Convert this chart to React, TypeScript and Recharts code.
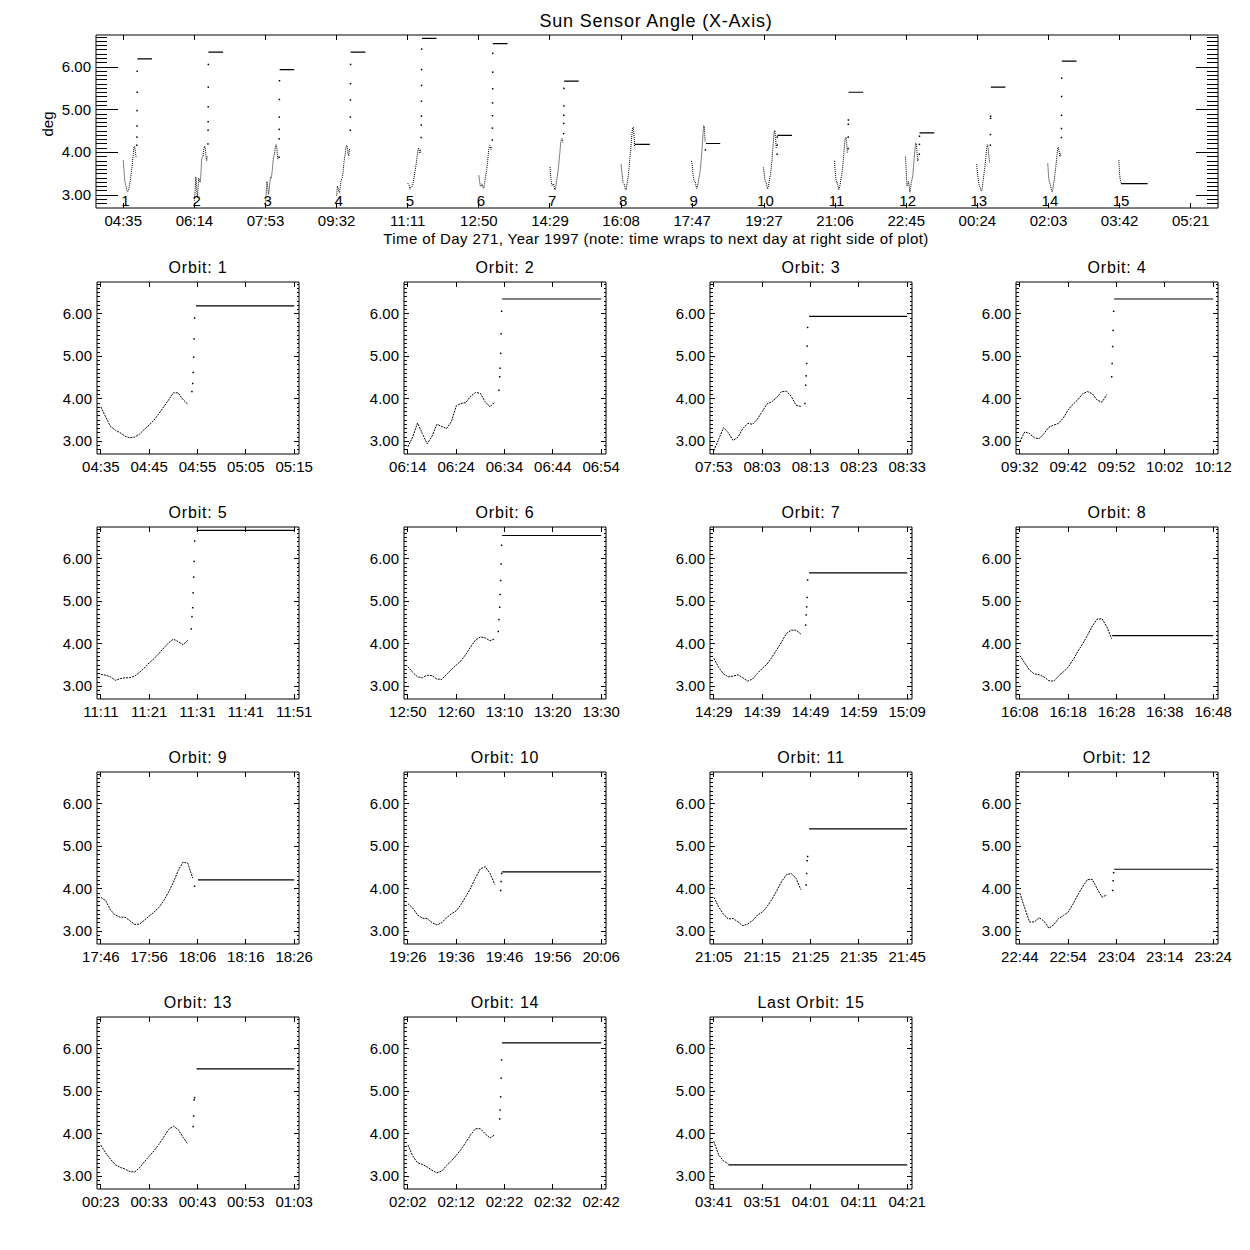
import React from "react";
import { ComposedChart, Line, Scatter, XAxis, YAxis } from "recharts";

const FONT = '"Liberation Sans", Arial, sans-serif';

// orbit numbers and their start time, minutes after 00:00 of day 271
const ORBITS = [1, 2, 3, 4, 5, 6, 7, 8, 9, 10, 11, 12, 13, 14, 15];
const ORBIT_START = [275, 374, 473, 572, 671, 770, 869, 968, 1066, 1166, 1265, 1364, 1463, 1562, 1661];

// top plot x axis
const TOP_TICKS = [275, 374, 473, 572, 671, 770, 869, 968, 1067, 1167, 1266, 1365, 1464, 1563, 1662, 1761];
const TOP_TICK_LABELS = [
  "04:35", "06:14", "07:53", "09:32", "11:11", "12:50", "14:29", "16:08",
  "17:47", "19:27", "21:06", "22:45", "00:24", "02:03", "03:42", "05:21",
];

// per orbit panel x axis (minutes into the orbit)
const PANEL_TICKS = [0, 10, 20, 30, 40];
const PANEL_TICK_LABELS = [
  ["04:35", "04:45", "04:55", "05:05", "05:15"],
  ["06:14", "06:24", "06:34", "06:44", "06:54"],
  ["07:53", "08:03", "08:13", "08:23", "08:33"],
  ["09:32", "09:42", "09:52", "10:02", "10:12"],
  ["11:11", "11:21", "11:31", "11:41", "11:51"],
  ["12:50", "12:60", "13:10", "13:20", "13:30"],
  ["14:29", "14:39", "14:49", "14:59", "15:09"],
  ["16:08", "16:18", "16:28", "16:38", "16:48"],
  ["17:46", "17:56", "18:06", "18:16", "18:26"],
  ["19:26", "19:36", "19:46", "19:56", "20:06"],
  ["21:05", "21:15", "21:25", "21:35", "21:45"],
  ["22:44", "22:54", "23:04", "23:14", "23:24"],
  ["00:23", "00:33", "00:43", "00:53", "01:03"],
  ["02:02", "02:12", "02:22", "02:32", "02:42"],
  ["03:41", "03:51", "04:01", "04:11", "04:21"],
];

// sun sensor angle (deg), one value per minute from orbit start
const CURVE_T = [0, 1, 2, 3, 4, 5, 6, 7, 8, 9, 10, 11, 12, 13, 14, 15, 16, 17, 18, 19];
const CURVE_01 = [3.81, 3.57, 3.35, 3.26, 3.20, 3.12, 3.08, 3.10, 3.17, 3.28, 3.38, 3.50, 3.65, 3.81, 3.97, 4.14, 4.14, 3.98, 3.87];
const CURVE_02 = [2.87, 3.10, 3.43, 3.18, 2.94, 3.12, 3.40, 3.35, 3.30, 3.46, 3.83, 3.89, 3.91, 4.06, 4.15, 4.13, 3.93, 3.81, 3.93];
const CURVE_03 = [2.78, 3.05, 3.32, 3.20, 3.02, 3.10, 3.30, 3.42, 3.40, 3.52, 3.70, 3.88, 3.93, 4.03, 4.17, 4.18, 4.06, 3.85, 3.82];
const CURVE_04 = [2.99, 3.22, 3.18, 3.08, 3.06, 3.18, 3.33, 3.38, 3.42, 3.55, 3.74, 3.87, 3.98, 4.12, 4.17, 4.12, 3.97, 3.92, 4.10];
const CURVE_05 = [3.28, 3.26, 3.22, 3.14, 3.18, 3.20, 3.20, 3.24, 3.33, 3.43, 3.55, 3.65, 3.77, 3.90, 4.02, 4.11, 4.05, 3.98, 4.08];
const CURVE_06 = [3.46, 3.33, 3.22, 3.20, 3.26, 3.25, 3.17, 3.16, 3.28, 3.39, 3.50, 3.60, 3.75, 3.93, 4.09, 4.16, 4.14, 4.07, 4.12];
const CURVE_07 = [3.66, 3.44, 3.29, 3.22, 3.24, 3.27, 3.20, 3.12, 3.17, 3.30, 3.42, 3.52, 3.68, 3.86, 4.04, 4.24, 4.32, 4.32, 4.23];
const CURVE_08 = [3.72, 3.55, 3.38, 3.29, 3.27, 3.22, 3.13, 3.12, 3.24, 3.34, 3.45, 3.62, 3.82, 4.00, 4.20, 4.42, 4.58, 4.59, 4.40, 4.12];
const CURVE_09 = [3.80, 3.72, 3.50, 3.38, 3.33, 3.33, 3.25, 3.16, 3.17, 3.26, 3.36, 3.45, 3.56, 3.72, 3.92, 4.15, 4.43, 4.63, 4.60, 4.25];
const CURVE_10 = [3.65, 3.55, 3.38, 3.31, 3.30, 3.20, 3.15, 3.20, 3.32, 3.41, 3.48, 3.63, 3.82, 4.02, 4.26, 4.47, 4.52, 4.36, 4.10];
const CURVE_11 = [3.80, 3.57, 3.40, 3.29, 3.30, 3.22, 3.13, 3.17, 3.25, 3.38, 3.45, 3.58, 3.75, 3.95, 4.17, 4.33, 4.36, 4.25, 3.98];
const CURVE_12 = [3.90, 3.55, 3.22, 3.22, 3.32, 3.24, 3.07, 3.15, 3.30, 3.37, 3.45, 3.64, 3.86, 4.05, 4.22, 4.22, 4.00, 3.80, 3.86];
const CURVE_13 = [3.73, 3.55, 3.40, 3.27, 3.21, 3.17, 3.11, 3.10, 3.20, 3.34, 3.47, 3.60, 3.75, 3.92, 4.10, 4.18, 4.10, 3.92, 3.76];
const CURVE_14 = [3.74, 3.48, 3.32, 3.28, 3.22, 3.14, 3.08, 3.12, 3.25, 3.36, 3.49, 3.63, 3.80, 3.98, 4.12, 4.12, 4.00, 3.90, 3.98];
const CURVE_15 = [3.82, 3.50, 3.36, 3.29];
const CURVES = [
  CURVE_01, CURVE_02, CURVE_03, CURVE_04, CURVE_05, CURVE_06, CURVE_07, CURVE_08,
  CURVE_09, CURVE_10, CURVE_11, CURVE_12, CURVE_13, CURVE_14, CURVE_15,
];

// sparse samples while the angle jumps (last one sits at the end of JUMP_T)
const JUMP_T = [18.7, 18.85, 19.0, 19.1, 19.2, 19.3, 19.4];
const JUMP_01 = [4.17, 4.36, 4.62, 4.98, 5.41, 5.90];
const JUMP_02 = [4.20, 4.52, 4.72, 5.07, 5.53, 6.06];
const JUMP_03 = [3.89, 4.32, 4.54, 4.83, 5.24, 5.68];
const JUMP_04 = [4.52, 4.83, 5.23, 5.61, 6.06];
const JUMP_05 = [4.35, 4.64, 4.85, 5.20, 5.57, 5.94, 6.42];
const JUMP_06 = [4.29, 4.57, 4.86, 5.16, 5.49, 5.88, 6.32];
const JUMP_07 = [4.44, 4.68, 4.87, 5.09, 5.50];
const JUMP_08: number[] = [];
const JUMP_09 = [4.06];
const JUMP_10 = [3.96, 4.17, 4.36];
const JUMP_11 = [4.09, 4.36, 4.66, 4.76];
const JUMP_12 = [3.96, 4.19, 4.38];
const JUMP_13 = [4.17, 4.42, 4.80, 4.85];
const JUMP_14 = [4.35, 4.56, 4.87, 5.31, 5.74];
const JUMP_15: number[] = [];
const JUMPS = [
  JUMP_01, JUMP_02, JUMP_03, JUMP_04, JUMP_05, JUMP_06, JUMP_07, JUMP_08,
  JUMP_09, JUMP_10, JUMP_11, JUMP_12, JUMP_13, JUMP_14, JUMP_15,
];

// held value after the jump, from PLATEAU_T0 to PLATEAU_END minutes
const PLATEAU = [6.19, 6.35, 5.94, 6.35, 6.67, 6.55, 5.67, 4.19, 4.21, 4.40, 5.41, 4.46, 5.53, 6.14, 3.27];
const PLATEAU_T0 = [19.7, 19.5, 19.7, 19.5, 19.8, 19.5, 19.7, 19.1, 20.1, 19.5, 19.7, 19.5, 19.8, 19.5, 3.0];
const PLATEAU_END = 40;

const Y_DOMAIN: [number, number] = [2.7, 6.75];
const Y_TICKS: number[] = [];
for (let i = 28; i <= 67; i++) Y_TICKS.push(i / 10);

type Pt = { t: number; v: number | null; label?: string };

function curvePts(k: number, off: number): Pt[] {
  return CURVES[k].map((v, i) => ({ t: off + CURVE_T[i], v }));
}
function jumpPts(k: number, off: number): Pt[] {
  const n = JUMPS[k].length;
  return JUMPS[k].map((v, i) => ({ t: off + JUMP_T[JUMP_T.length - n + i], v }));
}
function plateauPts(k: number, off: number): Pt[] {
  return [
    { t: off + PLATEAU_T0[k], v: PLATEAU[k] },
    { t: off + PLATEAU_END, v: PLATEAU[k] },
  ];
}

const topCurve: Pt[] = ORBITS.flatMap((_, k) => [...curvePts(k, ORBIT_START[k]), { t: ORBIT_START[k] + 19.5, v: null }]);
const topPlateau: Pt[] = ORBITS.flatMap((_, k) => [...plateauPts(k, ORBIT_START[k]), { t: ORBIT_START[k] + 41, v: null }]);
const topJump: Pt[] = ORBITS.flatMap((_, k) => jumpPts(k, ORBIT_START[k]));
const orbitLabels: Pt[] = ORBITS.map((o, k) => ({ t: ORBIT_START[k] + 3, v: 2.86, label: String(o) }));

const AXIS = { stroke: "#000", strokeWidth: 1 };
const isMajor = (v: number) => Math.abs(v - Math.round(v)) < 1e-6;

function yTick(side: "left" | "right", majorLen: number, minorLen: number, fontSize: number) {
  return (p: any) => {
    const v = p.payload.value as number;
    const major = isMajor(v);
    const dir = side === "left" ? 1 : -1;
    return (
      <g>
        <line x1={p.x} x2={p.x + dir * (major ? majorLen : minorLen)} y1={p.y} y2={p.y}
          stroke="#000" strokeWidth={1} shapeRendering="crispEdges" />
        {side === "left" && major && (
          <text x={p.x - 5} y={p.y + 5} textAnchor="end" fontSize={fontSize} fontFamily={FONT} fill="#000">
            {v.toFixed(2)}
          </text>
        )}
      </g>
    );
  };
}

function xTick(side: "bottom" | "top", len: number, labels: string[] | null, ticks: number[], fontSize: number) {
  return (p: any) => {
    const i = ticks.indexOf(p.payload.value);
    const dir = side === "bottom" ? -1 : 1;
    return (
      <g>
        <line x1={p.x} x2={p.x} y1={p.y} y2={p.y + dir * len} stroke="#000" strokeWidth={1} shapeRendering="crispEdges" />
        {labels && (
          <text x={p.x} y={p.y + 18} textAnchor="middle" fontSize={fontSize} fontFamily={FONT} fill="#000">
            {labels[i]}
          </text>
        )}
      </g>
    );
  };
}

const JumpDot = (p: any) => <rect x={p.cx - 0.75} y={p.cy - 0.75} width={1.5} height={1.5} fill="#000" />;
const OrbitNumber = (p: any) => (
  <text x={p.cx} y={p.cy + 5} textAnchor="middle" fontSize={15} fontFamily={FONT} fill="#000">
    {p.payload.label}
  </text>
);

const TOP_DOMAIN: [number, number] = [237, 1799];

function TopChart() {
  return (
    <div style={{ position: "absolute", left: 0, top: 0 }}>
      <ComposedChart width={1250} height={250} margin={{ top: 34, right: 31, bottom: 0, left: 0 }}>
        <XAxis xAxisId="b" dataKey="t" type="number" domain={TOP_DOMAIN} ticks={TOP_TICKS} interval={0}
          height={42} tickLine={false} tickSize={0} tickMargin={0} axisLine={AXIS} allowDataOverflow
          tick={xTick("bottom", 5, TOP_TICK_LABELS, TOP_TICKS, 15)} />
        <XAxis xAxisId="t" orientation="top" dataKey="t" type="number" domain={TOP_DOMAIN} ticks={TOP_TICKS}
          interval={0} height={1} tickLine={false} tickSize={0} tickMargin={0} axisLine={AXIS} allowDataOverflow
          tick={xTick("top", 5, null, TOP_TICKS, 15)} />
        <YAxis yAxisId="l" type="number" domain={Y_DOMAIN} ticks={Y_TICKS} interval={0} width={96}
          tickLine={false} tickSize={0} tickMargin={0} axisLine={AXIS} allowDataOverflow
          tick={yTick("left", 22, 11, 15)} />
        <YAxis yAxisId="r" orientation="right" type="number" domain={Y_DOMAIN} ticks={Y_TICKS} interval={0} width={1}
          tickLine={false} tickSize={0} tickMargin={0} axisLine={AXIS} allowDataOverflow
          tick={yTick("right", 22, 11, 15)} />
        <Line xAxisId="b" yAxisId="l" data={topCurve} dataKey="v" stroke="#000" strokeWidth={1}
          strokeDasharray="1 1" dot={false} connectNulls={false} isAnimationActive={false} />
        <Line xAxisId="b" yAxisId="l" data={topPlateau} dataKey="v" stroke="#000" strokeWidth={1.2}
          dot={false} connectNulls={false} isAnimationActive={false} />
        <Line xAxisId="t" yAxisId="r" data={topPlateau} dataKey="v" stroke="none" dot={false}
          connectNulls={false} isAnimationActive={false} />
        <Scatter xAxisId="b" yAxisId="l" data={topJump} dataKey="v" shape={JumpDot} isAnimationActive={false} />
        <Scatter xAxisId="b" yAxisId="l" data={orbitLabels} dataKey="v" shape={OrbitNumber} isAnimationActive={false} />
      </ComposedChart>
    </div>
  );
}

const PANEL_COL_LEFT = [97, 404, 710, 1016];
const PANEL_ROW_TOP = [282, 527, 772, 1017];
const PANEL_W = 202;
const PANEL_H = 172;
const PANEL_X_DOMAIN: [number, number] = [-0.8, 41];

function OrbitPanel({ k }: { k: number }) {
  const left = PANEL_COL_LEFT[k % 4];
  const top = PANEL_ROW_TOP[Math.floor(k / 4)];
  const title = k === ORBITS.length - 1 ? `Last Orbit: ${ORBITS[k]}` : `Orbit: ${ORBITS[k]}`;
  return (
    <>
      <div style={{
        position: "absolute", left: left + PANEL_W / 2, top: top - 14, transform: "translate(-50%, -50%)",
        fontFamily: FONT, fontSize: 16, letterSpacing: 0.8, whiteSpace: "pre", lineHeight: 1,
      }}>{title}</div>
      <div style={{ position: "absolute", left: left - 60, top: top - 10 }}>
        <ComposedChart width={60 + PANEL_W + 1 + 25} height={10 + PANEL_H + 28} margin={{ top: 9, right: 25, bottom: 0, left: 0 }}>
          <XAxis xAxisId="b" dataKey="t" type="number" domain={PANEL_X_DOMAIN} ticks={PANEL_TICKS} interval={0}
            height={28} tickLine={false} tickSize={0} tickMargin={0} axisLine={AXIS} allowDataOverflow
            tick={xTick("bottom", 5, PANEL_TICK_LABELS[k], PANEL_TICKS, 15)} />
          <XAxis xAxisId="t" orientation="top" dataKey="t" type="number" domain={PANEL_X_DOMAIN} ticks={PANEL_TICKS}
            interval={0} height={1} tickLine={false} tickSize={0} tickMargin={0} axisLine={AXIS} allowDataOverflow
            tick={xTick("top", 5, null, PANEL_TICKS, 15)} />
          <YAxis yAxisId="l" type="number" domain={Y_DOMAIN} ticks={Y_TICKS} interval={0} width={60}
            tickLine={false} tickSize={0} tickMargin={0} axisLine={AXIS} allowDataOverflow
            tick={yTick("left", 5, 2.5, 15)} />
          <YAxis yAxisId="r" orientation="right" type="number" domain={Y_DOMAIN} ticks={Y_TICKS} interval={0} width={1}
            tickLine={false} tickSize={0} tickMargin={0} axisLine={AXIS} allowDataOverflow
            tick={yTick("right", 5, 2.5, 15)} />
          <Line xAxisId="b" yAxisId="l" data={curvePts(k, 0)} dataKey="v" stroke="#000" strokeWidth={1}
            strokeDasharray="2 1" dot={false} isAnimationActive={false} />
          <Line xAxisId="b" yAxisId="l" data={plateauPts(k, 0)} dataKey="v" stroke="#000" strokeWidth={1.2}
            dot={false} isAnimationActive={false} />
          <Line xAxisId="t" yAxisId="r" data={plateauPts(k, 0)} dataKey="v" stroke="none" dot={false}
            isAnimationActive={false} />
          <Scatter xAxisId="b" yAxisId="l" data={jumpPts(k, 0)} dataKey="v" shape={JumpDot} isAnimationActive={false} />
        </ComposedChart>
      </div>
    </>
  );
}

export default function App() {
  return (
    <div style={{ position: "absolute", left: 0, top: 0, width: 1250, height: 1250, background: "#fff", fontFamily: FONT }}>
      <div style={{
        position: "absolute", left: 656, top: 21, transform: "translate(-50%, -50%)",
        fontSize: 18, letterSpacing: 0.8, whiteSpace: "nowrap", lineHeight: 1,
      }}>Sun Sensor Angle (X-Axis)</div>
      <div style={{
        position: "absolute", left: 47, top: 124, transform: "translate(-50%, -50%) rotate(-90deg)",
        fontSize: 15, whiteSpace: "nowrap", lineHeight: 1,
      }}>deg</div>
      <div style={{
        position: "absolute", left: 656, top: 238, transform: "translate(-50%, -50%)",
        fontSize: 15, letterSpacing: 0.4, whiteSpace: "nowrap", lineHeight: 1,
      }}>Time of Day 271, Year 1997 (note: time wraps to next day at right side of plot)</div>
      <TopChart />
      {ORBITS.map((_, k) => <OrbitPanel key={k} k={k} />)}
    </div>
  );
}
